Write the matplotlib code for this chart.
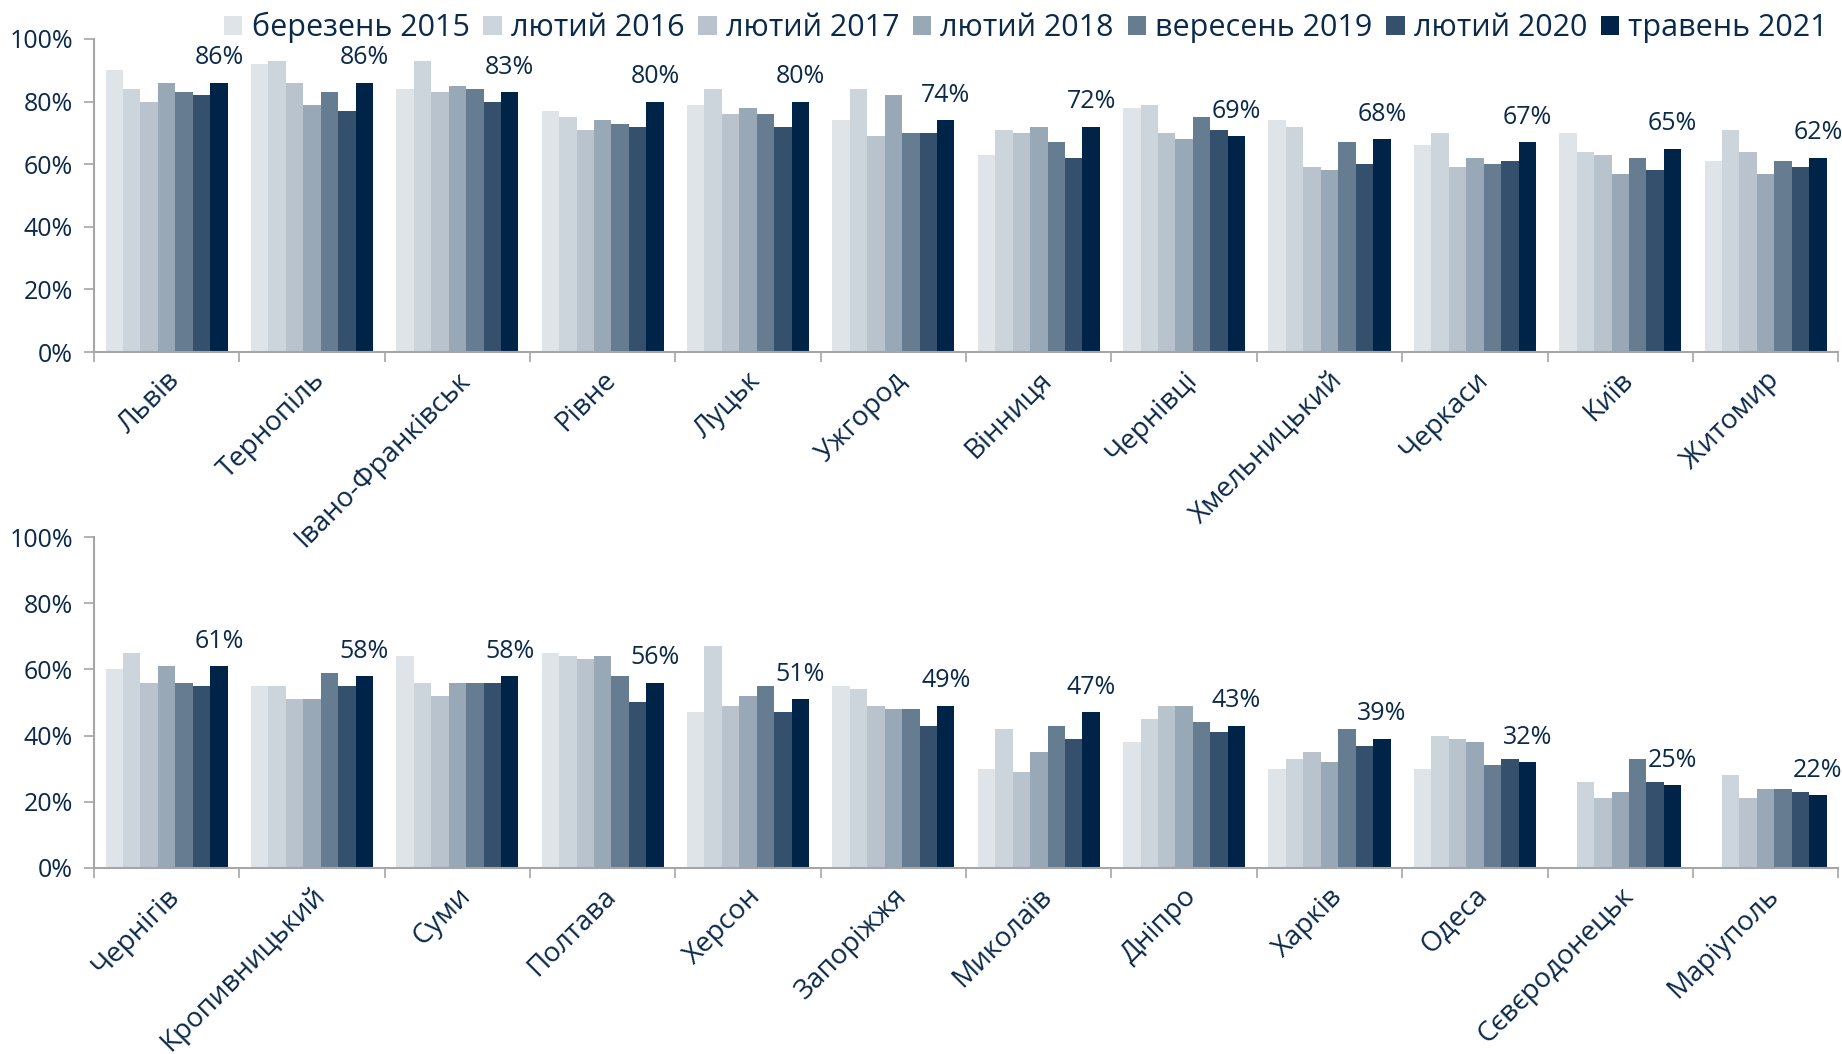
import matplotlib
matplotlib.use("Agg")
import matplotlib.pyplot as plt
import matplotlib.transforms as mtransforms
from matplotlib.patches import Patch
import numpy as np

plt.rcParams['font.family'] = ['Open Sans', 'DejaVu Sans']

# series (legend order)
series = ['березень 2015', 'лютий 2016', 'лютий 2017', 'лютий 2018',
          'вересень 2019', 'лютий 2020', 'травень 2021']
colors = ['#dfe4e9', '#ccd4dc', '#b9c3cd', '#98a8b7', '#667c91', '#34506c', '#002448']

# top panel
cities_top = ['Львів', 'Тернопіль', 'Івано-Франківськ', 'Рівне', 'Луцьк', 'Ужгород',
              'Вінниця', 'Чернівці', 'Хмельницький', 'Черкаси', 'Київ', 'Житомир']
mar2015_top = [90, 92, 84, 77, 79, 74, 63, 78, 74, 66, 70, 61]
feb2016_top = [84, 93, 93, 75, 84, 84, 71, 79, 72, 70, 64, 71]
feb2017_top = [80, 86, 83, 71, 76, 69, 70, 70, 59, 59, 63, 64]
feb2018_top = [86, 79, 85, 74, 78, 82, 72, 68, 58, 62, 57, 57]
sep2019_top = [83, 83, 84, 73, 76, 70, 67, 75, 67, 60, 62, 61]
feb2020_top = [82, 77, 80, 72, 72, 70, 62, 71, 60, 61, 58, 59]
may2021_top = [86, 86, 83, 80, 80, 74, 72, 69, 68, 67, 65, 62]

# bottom panel (no 2015 data for Сєвєродонецьк, Маріуполь)
cities_bot = ['Чернігів', 'Кропивницький', 'Суми', 'Полтава', 'Херсон', 'Запоріжжя',
              'Миколаїв', 'Дніпро', 'Харків', 'Одеса', 'Сєвєродонецьк', 'Маріуполь']
mar2015_bot = [60, 55, 64, 65, 47, 55, 30, 38, 30, 30, np.nan, np.nan]
feb2016_bot = [65, 55, 56, 64, 67, 54, 42, 45, 33, 40, 26, 28]
feb2017_bot = [56, 51, 52, 63, 49, 49, 29, 49, 35, 39, 21, 21]
feb2018_bot = [61, 51, 56, 64, 52, 48, 35, 49, 32, 38, 23, 24]
sep2019_bot = [56, 59, 56, 58, 55, 48, 43, 44, 42, 31, 33, 24]
feb2020_bot = [55, 55, 56, 50, 47, 43, 39, 41, 37, 33, 26, 23]
may2021_bot = [61, 58, 58, 56, 51, 49, 47, 43, 39, 32, 25, 22]

top_data = [mar2015_top, feb2016_top, feb2017_top, feb2018_top, sep2019_top, feb2020_top, may2021_top]
bot_data = [mar2015_bot, feb2016_bot, feb2017_bot, feb2018_bot, sep2019_bot, feb2020_bot, may2021_bot]

navy = '#0b2a4a'
axis_grey = '#a6a6a6'
bar_w = 0.12

fig = plt.figure(figsize=(18.42, 10.54), dpi=100)
ax1 = fig.add_axes([0.051, 0.666, 0.947, 0.297])
ax2 = fig.add_axes([0.051, 0.1765, 0.947, 0.314])
# let long labels of the top panel show through the lower panel
ax2.set_facecolor('none')


def draw_panel(ax, cities, data):
    x = np.arange(len(cities))
    for j, vals in enumerate(data):
        ax.bar(x + (j - 3) * bar_w, vals, width=bar_w, color=colors[j], linewidth=0)
    # labels for the latest wave
    for xi, v in zip(x, data[-1]):
        ax.annotate(f'{v}%', (xi + 3 * bar_w, v), xytext=(0, 9), textcoords='offset points',
                    ha='center', va='bottom', fontsize=18, color=navy)
    ax.set_xlim(-0.5, len(cities) - 0.5)
    ax.set_ylim(0, 100)
    ax.set_yticks(range(0, 101, 20))
    ax.set_yticklabels([f'{t}%' for t in range(0, 101, 20)])
    ax.set_xticks(np.arange(-0.5, len(cities), 1.0))
    ax.set_xticklabels([])
    ax.tick_params(axis='both', direction='out', length=7, width=1.2, color=axis_grey)
    ax.tick_params(axis='y', labelsize=18, labelcolor=navy, pad=8)
    for s in ['top', 'right']:
        ax.spines[s].set_visible(False)
    for s in ['left', 'bottom']:
        ax.spines[s].set_color(axis_grey)
        ax.spines[s].set_linewidth(1.5)
    trans = mtransforms.blended_transform_factory(ax.transData, ax.transAxes)
    trans = trans + mtransforms.ScaledTranslation(0.09, -0.24, fig.dpi_scale_trans)
    for xi, name in zip(x, cities):
        ax.text(xi, 0, name, transform=trans, rotation=45, rotation_mode='anchor',
                ha='right', va='center', fontsize=20, color=navy, zorder=10)


draw_panel(ax1, cities_top, top_data)
draw_panel(ax2, cities_bot, bot_data)

handles = [Patch(facecolor=c, edgecolor='none') for c in colors]
fig.legend(handles, series, loc='center right', bbox_to_anchor=(0.999, 0.974), ncol=7,
           frameon=False, fontsize=22, labelcolor=navy, handlelength=0.6, handleheight=0.6,
           handletextpad=0.3, columnspacing=0.45, borderaxespad=0)

fig.savefig('out.png', dpi=100)
